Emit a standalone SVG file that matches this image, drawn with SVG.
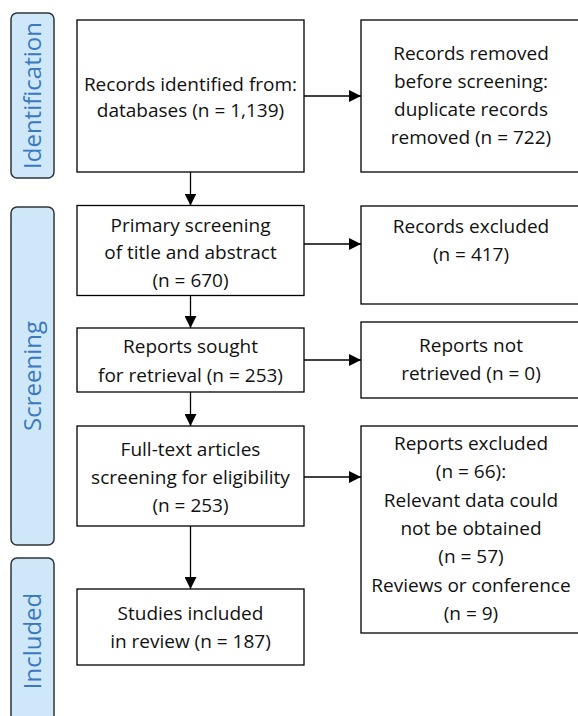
<svg xmlns="http://www.w3.org/2000/svg" width="578" height="716" viewBox="0 0 578 716">
<defs>
<style>
.box{fill:#fff;stroke:#000;stroke-width:1.3}
.lab{fill:#cfe8f9;stroke:#2f3438;stroke-width:1.5}
.t{font-family:"Open Sans","DejaVu Sans",sans-serif;font-size:19px;fill:#111;text-anchor:middle}
.lt{font-family:"Open Sans","DejaVu Sans",sans-serif;font-size:24px;fill:#3b78c0;text-anchor:middle}
.c{stroke:#000;stroke-width:1.3;fill:none;marker-end:url(#ah)}
</style>
<marker id="ah" viewBox="0 0 12 12" refX="12" refY="6" markerWidth="12" markerHeight="12" markerUnits="userSpaceOnUse" orient="auto">
<path d="M0,0 L12,6 L0,12 Z" fill="#000"/>
</marker>
</defs>
<rect width="578" height="716" fill="#fff"/>
<g id="label-identification">
<rect class="lab" x="11" y="13" width="43" height="165" rx="6"/>
<text class="lt" transform="translate(41,95.5) rotate(-90)">Identification</text>
</g>
<g id="label-screening">
<rect class="lab" x="11" y="207" width="43" height="338" rx="6"/>
<text class="lt" transform="translate(41,376) rotate(-90)">Screening</text>
</g>
<g id="label-included">
<rect class="lab" x="11" y="558" width="43" height="175" rx="6"/>
<text class="lt" transform="translate(41,641) rotate(-90)">Included</text>
</g>
<g id="n-identified">
<rect class="box" x="77" y="20" width="227" height="152"/>
<text class="t" x="190.5" y="90.5">Records identified from:</text>
<text class="t" x="190.5" y="117">databases (n = 1,139)</text>
</g>
<g id="n-removed">
<rect class="box" x="361" y="20" width="220" height="152"/>
<text class="t" x="471" y="60">Records removed</text>
<text class="t" x="471" y="88">before screening:</text>
<text class="t" x="471" y="116">duplicate records</text>
<text class="t" x="471" y="144">removed (n = 722)</text>
</g>
<g id="n-primary">
<rect class="box" x="77" y="205.5" width="227" height="90"/>
<text class="t" x="190.5" y="231.5">Primary screening</text>
<text class="t" x="190.5" y="258.5">of title and abstract</text>
<text class="t" x="190.5" y="286.5">(n = 670)</text>
</g>
<g id="n-excluded">
<rect class="box" x="361" y="206" width="220" height="98"/>
<text class="t" x="471" y="232.5">Records excluded</text>
<text class="t" x="471" y="261">(n = 417)</text>
</g>
<g id="n-sought">
<rect class="box" x="77" y="328" width="227" height="64"/>
<text class="t" x="190.5" y="353">Reports sought</text>
<text class="t" x="190.5" y="381.5">for retrieval (n = 253)</text>
</g>
<g id="n-notretrieved">
<rect class="box" x="361" y="322" width="220" height="76"/>
<text class="t" x="471" y="351.5">Reports not</text>
<text class="t" x="471" y="380">retrieved (n = 0)</text>
</g>
<g id="n-fulltext">
<rect class="box" x="77" y="426" width="227" height="100"/>
<text class="t" x="190.5" y="456">Full-text articles</text>
<text class="t" x="190.5" y="484">screening for eligibility</text>
<text class="t" x="190.5" y="512">(n = 253)</text>
</g>
<g id="n-reportsexcluded">
<rect class="box" x="361" y="426" width="220" height="207"/>
<text class="t" x="471" y="450">Reports excluded</text>
<text class="t" x="471" y="478.3">(n = 66):</text>
<text class="t" x="471" y="506.6">Relevant data could</text>
<text class="t" x="471" y="535">not be obtained</text>
<text class="t" x="471" y="563.3">(n = 57)</text>
<text class="t" x="471" y="591.6">Reviews or conference</text>
<text class="t" x="471" y="620">(n = 9)</text>
</g>
<g id="n-included">
<rect class="box" x="77" y="589" width="227" height="76"/>
<text class="t" x="190.5" y="620">Studies included</text>
<text class="t" x="190.5" y="648">in review (n = 187)</text>
</g>
<g id="connectors">
<line class="c" x1="190.5" y1="172" x2="190.5" y2="205.5"/>
<line class="c" x1="190.5" y1="295.5" x2="190.5" y2="328"/>
<line class="c" x1="190.5" y1="392" x2="190.5" y2="426"/>
<line class="c" x1="190.5" y1="526" x2="190.5" y2="589"/>
<line class="c" x1="304" y1="96" x2="361" y2="96"/>
<line class="c" x1="304" y1="244" x2="361" y2="244"/>
<line class="c" x1="304" y1="360" x2="361" y2="360"/>
<line class="c" x1="304" y1="477" x2="361" y2="477"/>
</g>
</svg>
